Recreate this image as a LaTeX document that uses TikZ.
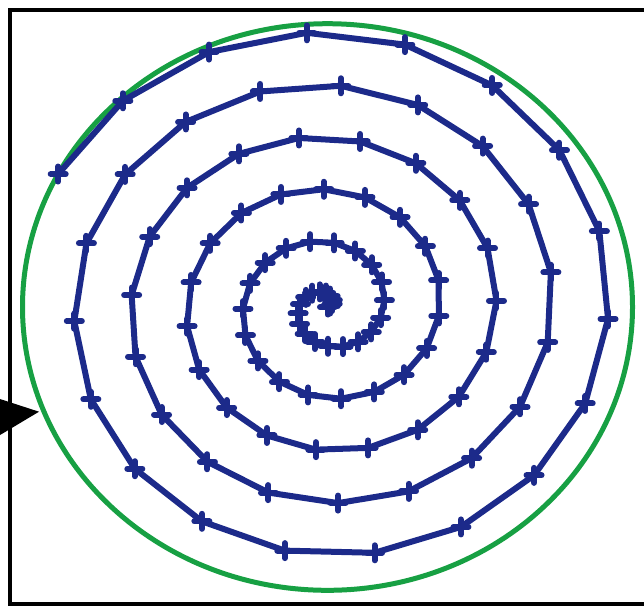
\documentclass[tikz,border=0pt]{standalone}
\definecolor{spiralblue}{HTML}{1C2A8A}
\definecolor{ringgreen}{HTML}{17A043}
\usetikzlibrary{calc}

\begin{document}
\begin{tikzpicture}[x=1pt,y=-1pt,
    frame/.style={draw=black,line width=4pt},
    ring/.style={draw=ringgreen,line width=5pt},
    spiral/.style={draw=spiralblue,line width=6pt,line join=round,line cap=round,
      mark=+,mark size=7.5pt,mark options={line width=6pt,line cap=round}}]
  \useasboundingbox (0,0) rectangle (644,606);
  \clip (0,0) rectangle (644,606);
  \coordinate (c) at (327.5,307);
  \coordinate (tip) at (39,411.7);
  % frame and arrow head
  \draw[frame] (9.5,9.5) rectangle (690,603.5);
  \fill[black] (-20,392.5) -- (tip) -- (-20,447) -- cycle;
  % outer ring
  \draw[ring] (c) ellipse [x radius=305pt,y radius=283.3pt];
  % spiral, one vertex every 1952/101 degrees
  \draw[spiral] plot[samples=102,domain=0:101]
    ({327.5+305*(\x/101)*cos(\x*19.32673)},{307-283.3*(\x/101)*sin(\x*19.32673)});
\end{tikzpicture}
\end{document}
